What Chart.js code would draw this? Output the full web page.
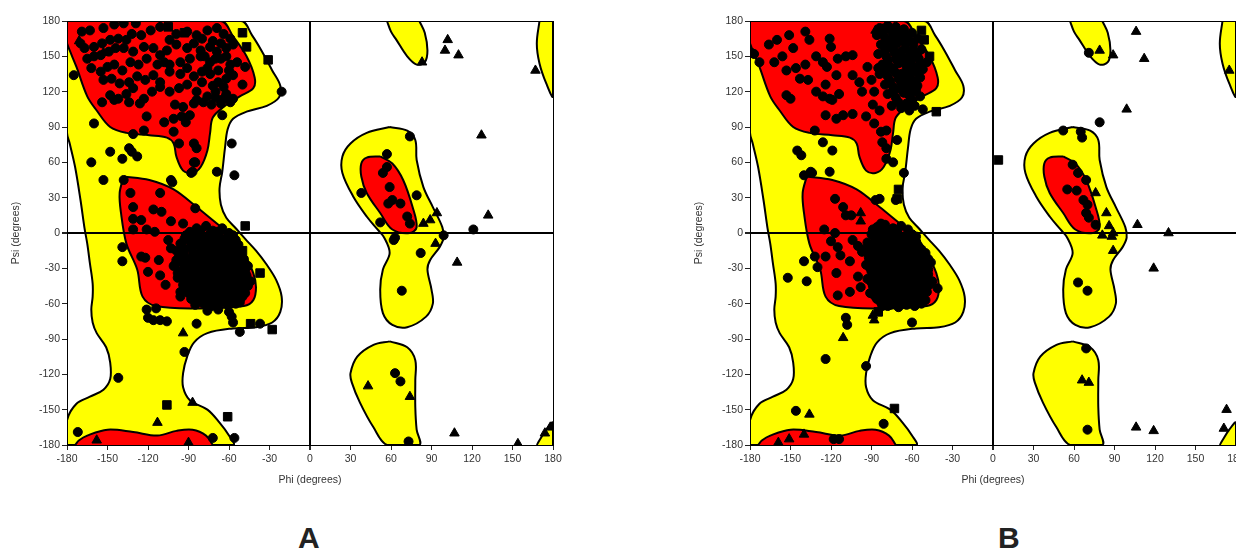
<!DOCTYPE html>
<html>
<head>
<meta charset="utf-8">
<script src="https://cdn.jsdelivr.net/npm/chart.js@4.4.1/dist/chart.umd.min.js"></script>
<style>
  html, body { margin: 0; padding: 0; background: #fff; overflow: hidden; width: 1236px; height: 548px; }
  .plot { position: absolute; top: 0; }
  .tag { position: absolute; top: 521px; line-height: 30px; font: bold 30px "Liberation Sans", Arial, sans-serif; color: #222; }
</style>
</head>
<body>
<div class="plot" style="left:0"><canvas id="plotA" width="580" height="500"></canvas></div>
<div class="plot" style="left:683px"><canvas id="plotB" width="580" height="500"></canvas></div>
<div class="tag" style="left:298px">A</div>
<div class="tag" style="left:998px">B</div>
<script>
// tick labels (degrees), same on both axes
var tickValues = [-180, -150, -120, -90, -60, -30, 0, 30, 60, 90, 120, 150, 180];

// background regions, [phi, psi]
var redBeta = [[-180,180],[-66,180],[-57,167],[-47,150],[-41,132],[-42,123],[-52,116],[-64,107],[-72,98],[-74,85],[-76,70],[-81,56],[-87,51],[-94,53],[-99,65],[-101,76],[-106,81],[-119,83],[-136,85],[-148,90],[-158,104],[-165,116],[-173,141],[-178,155],[-180,161]];
var redAlpha = [[-138,48],[-119,45],[-101,37],[-84,22],[-69,8],[-57,-3],[-49,-17],[-42,-34],[-40,-46],[-42,-57],[-49,-62],[-82,-64],[-114,-62],[-124,-54],[-128,-31],[-136,-9],[-140,17],[-141,34],[-138,48]];
var redBottom = [[-174,-180],[-171,-176],[-165,-172],[-150,-167],[-131,-169],[-113,-172],[-99,-168],[-87,-167],[-77,-172],[-72,-180]];
var redLeft = [[52,65],[61,59],[69,45],[76,22],[79,5],[74,0],[61,3],[52,17],[42,34],[38,48],[38,59],[42,64],[52,65]];

var yellowMain = [[-180,180],[-51,180],[-43,168],[-36,155],[-28,138],[-22,125],[-23,115],[-32,108],[-47,103],[-57,97],[-61,88],[-63,72],[-65,52],[-67,38],[-66,24],[-62,13],[-55,4],[-48,-5],[-40,-15],[-32,-27],[-25,-40],[-21,-54],[-22,-67],[-28,-76],[-40,-80],[-57,-81],[-76,-85],[-86,-93],[-91,-105],[-94,-119],[-94,-131],[-89,-142],[-76,-150],[-67,-161],[-60,-172],[-57,-180],[-180,-180],[-180,-159],[-173,-145],[-163,-139],[-153,-133],[-148,-124],[-148,-110],[-151,-97],[-158,-85],[-161,-76],[-162,-65],[-161,-54],[-161,-43],[-163,-26],[-165,-9],[-167,4],[-170,28],[-174,56],[-178,76],[-180,85],[-180,180]];
var yellowLeft = [[59,90],[72,87],[78,79],[79,62],[84,39],[91,22],[98,5],[99,-4],[96,-12],[89,-23],[87,-31],[90,-48],[91,-60],[86,-71],[72,-80],[61,-78],[54,-68],[52,-48],[54,-31],[59,-17],[55,-4],[50,3],[42,14],[32,31],[24,51],[24,65],[30,76],[42,85],[59,90]];
var yellowLow = [[59,-92],[72,-97],[78,-108],[78,-125],[78,-148],[79,-167],[81,-180],[57,-180],[47,-165],[37,-144],[31,-127],[30,-119],[35,-105],[47,-95],[59,-92]];
var yellowTop = [[57,180],[60,171],[64,164],[72,150],[79,143],[85,145],[87,155],[85,170],[81,180]];
var yellowTopRight = [[170,180],[168,161],[170,144],[175,127],[180,116],[180,180]];
var yellowBottomRight = [[168,-180],[170,-176],[175,-167],[180,-161],[180,-180]];

// residues, plot A
var aCircles = [
  [-169,171],[-163,172],[-153,174],[-145,177],[-138,178],[-129,178],[-170,161],[-167,157],[-160,158],[-154,161],[-148,164],[-142,165],[-136,164],[-132,169],[-125,168],[-118,172],[-111,175],[-104,164],[-99,169],[-91,171],[-84,168],[-76,172],[-69,174],[-64,169],[-59,165],[-57,160],
  [-165,148],[-160,150],[-155,151],[-149,154],[-144,157],[-138,157],[-131,154],[-123,158],[-116,157],[-111,151],[-106,155],[-99,160],[-91,157],[-86,161],[-81,155],[-74,158],[-69,154],[-62,157],
  [-162,140],[-155,137],[-150,141],[-145,143],[-139,138],[-133,145],[-127,143],[-121,148],[-113,143],[-108,145],[-104,143],[-96,145],[-89,148],[-81,150],[-74,145],[-66,148],[-59,143],[-54,145],[-48,141],
  [-153,130],[-147,131],[-141,127],[-134,128],[-128,133],[-122,130],[-116,134],[-111,128],[-104,137],[-96,135],[-91,140],[-86,133],[-80,137],[-74,135],[-68,128],[-62,131],[-57,134],[-50,126],
  [-148,117],[-142,114],[-136,118],[-131,123],[-123,114],[-117,120],[-111,124],[-104,120],[-97,123],[-91,126],[-84,120],[-76,116],[-70,120],[-64,114],[-57,114],
  [-154,111],[-145,113],[-134,111],[-126,110],[-100,109],[-94,107],[-86,110],[-79,111],[-73,109],[-66,110],[-59,111],
  [-121,99],[-108,94],[-101,97],[-95,99],[-89,100],[-92,94],[-131,84],[-123,87],[-101,86],[-97,76],[-86,76],[-84,72],[-86,60],[-87,52],
  [-80,165],[-72,163],[-66,161],[-78,150],[-70,148],[-62,150],[-76,140],[-68,138],[-60,138],[-80,128],[-72,125],[-64,124],[-70,115],[-62,118],[-84,113],
  [-65,100],[-58,76],[-69,52],[-160,93],[-175,134],[-148,69],[-139,63],[-134,72],[-132,69],[-128,65],[-162,60],[-153,45],[-102,43],[-56,49],[-85,60],[-21,120],
  [-138,45],[-103,45],[-88,51],[-133,34],[-131,22],[-111,34],[-116,20],[-110,18],[-131,12],[-125,11],[-103,10],[-94,8],[-85,21],[-131,3],[-121,3],[-115,1],
  [-139,-12],[-139,-24],[-125,-20],[-122,-21],[-112,-23],[-120,-33],[-111,-36],[-107,-44],[-96,-54],[-105,-6],[-103,-13],[-99,-23],[-101,-28],[-98,-34],[-93,-40],[-92,-46],
  [-84,4],[-77,6],[-72,2],[-65,4],
  [-92,-2],[-86,-1],[-81,-3],[-74,-1],[-68,-2],[-62,-4],[-57,-2],
  [-96,-9],[-89,-7],[-83,-10],[-77,-8],[-71,-6],[-66,-9],[-59,-8],[-53,-10],
  [-99,-15],[-93,-14],[-87,-13],[-81,-16],[-75,-14],[-69,-13],[-63,-15],[-57,-14],[-51,-15],
  [-97,-20],[-90,-22],[-84,-19],[-78,-21],[-72,-20],[-66,-19],[-61,-21],[-55,-20],[-49,-22],
  [-100,-27],[-94,-26],[-88,-25],[-82,-27],[-76,-26],[-70,-25],[-64,-28],[-58,-26],[-52,-25],[-46,-28],
  [-96,-33],[-90,-32],[-84,-31],[-78,-33],[-72,-32],[-66,-31],[-60,-34],[-54,-32],[-48,-33],
  [-98,-38],[-92,-40],[-86,-37],[-80,-39],[-74,-38],[-68,-37],[-62,-40],[-56,-38],[-50,-39],[-44,-41],
  [-94,-44],[-88,-46],[-82,-43],[-76,-45],[-70,-44],[-64,-43],[-58,-46],[-52,-44],[-46,-45],
  [-96,-50],[-90,-51],[-84,-49],[-78,-51],[-72,-50],[-66,-49],[-60,-52],[-54,-50],[-48,-51],
  [-88,-56],[-82,-55],[-76,-57],[-70,-55],[-64,-56],[-58,-55],[-52,-57],
  [-85,-61],[-79,-60],[-73,-62],[-67,-60],[-61,-61],[-55,-60],
  [-76,-66],[-68,-65],[-60,-67],
  [-89,1],[-81,2],[-69,1],[-60,0],
  [-93,-5],[-86,-5],[-78,-5],[-70,-4],[-63,-6],[-55,-6],
  [-95,-11],[-88,-11],[-80,-12],[-73,-11],[-66,-12],[-60,-11],[-54,-12],
  [-94,-18],[-87,-17],[-81,-18],[-75,-17],[-69,-17],[-63,-18],[-57,-17],[-52,-18],
  [-96,-23],[-91,-24],[-85,-23],[-79,-24],[-73,-23],[-67,-22],[-61,-24],[-55,-23],[-50,-23],
  [-93,-30],[-87,-29],[-81,-30],[-75,-30],[-69,-29],[-63,-30],[-57,-30],[-51,-30],
  [-95,-35],[-89,-36],[-83,-35],[-77,-36],[-71,-35],[-65,-34],[-59,-36],[-53,-35],[-47,-36],
  [-91,-42],[-85,-41],[-79,-42],[-73,-41],[-67,-40],[-61,-42],[-55,-41],[-49,-42],
  [-92,-47],[-86,-48],[-80,-47],[-74,-47],[-68,-47],[-62,-48],[-56,-47],[-50,-48],
  [-86,-53],[-80,-53],[-74,-53],[-68,-52],[-62,-53],[-56,-53],[-50,-54],
  [-82,-58],[-76,-59],[-70,-58],[-64,-58],[-58,-58],[-52,-59],
  [-121,-65],[-114,-64],[-120,-72],[-116,-74],[-111,-74],[-106,-75],[-84,-77],[-58,-71],[-57,-76],[-37,-77],[-52,-84],
  [-142,-123],[-93,-101],[-72,-174],[-56,-174],[-172,-169],
  [74,82],[57,67],[38,34],[52,9],[79,32],[121,3],[63,-4],[99,-2],[57,56],[54,51],[59,39],[61,28],[67,25],[58,25],[72,14],[74,8],[62,-6],[82,-17],[68,-49],[63,-119],[67,-126],[73,-177]
];
var aTriangles = [[-153,153],[-171,163],[-158,-176],[-113,-161],[-87,-144],[-90,-178],[-94,-85],[102,164],[100,155],[110,151],[167,138],[127,83],[132,15],[94,17],[89,11],[84,8],[93,-9],[109,-25],[43,-130],[74,-139],[107,-170],[154,-179],[174,-170],[178,-165],[83,145]];
var aSquares = [[-105,175],[-93,170],[-50,170],[-47,158],[-31,147],[-48,6],[-50,-15],[-37,-34],[-44,-77],[-28,-82],[-106,-146],[-61,-156]];

// residues, plot B
var bCircles = [
  [-177,152],[-173,145],[-166,160],[-160,164],[-151,168],[-139,171],[-136,164],[-121,165],[-120,158],[-162,145],[-156,150],[-148,157],[-153,138],[-146,140],[-139,143],[-131,150],[-126,145],[-123,141],[-115,148],[-109,150],[-104,151],
  [-143,131],[-137,130],[-131,120],[-124,126],[-116,134],[-121,114],[-114,118],[-104,134],[-99,128],[-97,120],[-93,141],[-85,140],[-153,117],[-150,114],[-126,116],[-119,113],
  [-124,100],[-116,97],[-111,100],[-104,101],[-94,99],[-89,109],[-84,104],[-88,93],[-83,86],[-79,87],[-82,77],[-79,72],[-79,63],[-74,60],[-71,79],[-132,87],[-126,77],[-119,70],[-145,70],[-142,66],[-135,52],[-121,52],[-140,49],[-179,153],
  [-84,174],[-78,176],[-72,175],[-66,173],[-60,170],
  [-86,168],[-80,166],[-74,169],[-68,166],[-62,163],[-56,165],
  [-83,160],[-77,158],[-71,161],[-65,157],[-59,155],[-53,156],
  [-85,152],[-79,150],[-73,153],[-67,149],[-61,147],[-55,148],[-49,145],
  [-82,143],[-76,141],[-70,144],[-64,140],[-58,138],[-52,139],
  [-84,135],[-78,133],[-72,136],[-66,131],[-60,130],[-54,132],
  [-80,126],[-74,124],[-68,127],[-62,122],[-56,125],
  [-78,118],[-72,115],[-66,119],[-60,113],[-54,116],
  [-75,108],[-68,106],[-62,104],[-52,105],[-88,120],[-90,130],
  [-81,171],[-75,172],[-69,170],[-63,167],[-77,163],[-71,165],[-65,162],[-59,160],
  [-80,155],[-74,156],[-68,154],[-62,151],[-56,152],[-78,146],[-72,148],[-66,145],[-60,143],[-54,143],
  [-80,138],[-74,139],[-68,135],[-62,135],[-56,136],[-76,129],[-70,131],[-64,127],[-58,127],
  [-74,120],[-68,122],[-62,117],[-70,111],[-64,110],[-58,108],
  [-134,51],[-117,29],[-111,22],[-109,15],[-105,15],[-89,3],[-83,8],[-87,28],[-84,29],[-66,51],[-72,28],
  [-125,3],[-117,0],[-120,-7],[-115,-12],[-104,-6],[-100,-11],[-97,-16],[-132,-20],[-124,-20],[-130,-29],[-140,-24],[-152,-38],[-138,-41],
  [-113,-19],[-106,-24],[-116,-34],[-100,-37],[-98,-46],[-115,-53],[-106,-50],[-41,-47],[-48,-31],[-109,-72],[-108,-78],[-60,-76],[-78,-62],
  [-86,5],[-80,7],[-74,4],[-68,6],
  [-90,-1],[-84,0],[-78,-2],[-72,-1],[-66,-3],[-60,-1],
  [-93,-8],[-87,-6],[-81,-9],[-75,-7],[-69,-8],[-63,-10],[-57,-7],
  [-95,-14],[-89,-15],[-83,-13],[-77,-14],[-71,-16],[-65,-13],[-59,-15],[-53,-14],
  [-92,-21],[-86,-20],[-80,-22],[-74,-20],[-68,-21],[-62,-19],[-56,-22],[-50,-20],
  [-94,-27],[-88,-26],[-82,-28],[-76,-27],[-70,-25],[-64,-28],[-58,-26],[-52,-27],[-46,-25],
  [-90,-33],[-84,-32],[-78,-34],[-72,-33],[-66,-31],[-60,-34],[-54,-32],[-48,-35],
  [-93,-39],[-87,-40],[-81,-38],[-75,-40],[-69,-39],[-63,-37],[-57,-40],[-51,-38],[-45,-41],
  [-89,-45],[-83,-46],[-77,-44],[-71,-46],[-65,-45],[-59,-43],[-53,-46],[-47,-44],
  [-91,-51],[-85,-50],[-79,-52],[-73,-50],[-67,-51],[-61,-49],[-55,-52],[-49,-50],
  [-86,-56],[-80,-57],[-74,-55],[-68,-57],[-62,-56],[-56,-55],[-50,-57],
  [-82,-62],[-76,-61],[-70,-63],[-64,-61],[-58,-62],
  [-83,3],[-77,2],[-71,2],[-63,3],
  [-87,-4],[-81,-4],[-75,-4],[-69,-4],[-63,-5],[-57,-3],
  [-92,-11],[-86,-10],[-80,-11],[-74,-11],[-68,-11],[-62,-12],[-56,-11],
  [-92,-17],[-86,-17],[-80,-17],[-74,-17],[-68,-18],[-62,-16],[-56,-17],[-50,-17],
  [-89,-23],[-83,-23],[-77,-23],[-71,-23],[-65,-23],[-59,-23],[-53,-23],[-48,-22],
  [-91,-30],[-85,-29],[-79,-30],[-73,-29],[-67,-29],[-61,-30],[-55,-29],[-49,-29],
  [-87,-36],[-81,-35],[-75,-36],[-69,-36],[-63,-34],[-57,-36],[-51,-35],
  [-90,-42],[-84,-43],[-78,-41],[-72,-42],[-66,-42],[-60,-40],[-54,-42],[-48,-41],
  [-86,-48],[-80,-48],[-74,-47],[-68,-48],[-62,-47],[-56,-48],[-50,-47],
  [-88,-53],[-82,-53],[-76,-52],[-70,-54],[-64,-53],[-58,-53],[-52,-52],
  [-83,-59],[-77,-58],[-71,-59],[-65,-58],[-59,-59],[-53,-60],
  [-124,-107],[-94,-113],[-146,-151],[-118,-175],[-114,-175],[-81,-162],
  [71,153],[79,94],[52,87],[65,86],[66,81],[59,58],[63,51],[69,45],[55,37],[62,36],[67,28],[70,24],[69,17],[71,13],[76,7],[63,-42],[70,-49],[69,-98],[70,-167]
];
var bTriangles = [[-87,172],[-82,173],[-98,17],[-98,10],[-88,-74],[-89,-70],[-111,-89],[-136,-154],[-140,-171],[-151,-175],[-159,-178],[106,171],[112,148],[99,105],[79,155],[89,151],[175,138],[107,7],[130,0],[84,17],[86,6],[89,0],[81,-2],[76,34],[88,-3],[89,-15],[119,-30],[66,-125],[71,-127],[106,-165],[119,-168],[173,-150],[171,-166]];
var bSquares = [[4,62],[-53,172],[-51,164],[-47,150],[-57,120],[-42,103],[-70,37],[-71,29],[-85,-67],[-73,-149]];

var RED = '#ff0000';
var YELLOW = '#ffff00';

function toXY(list) {
  return list.map(function (p) { return {x: p[0], y: p[1]}; });
}

function markerSet(list, style, radius) {
  return {
    data: toXY(list), pointStyle: style, pointRadius: radius, pointHoverRadius: radius,
    backgroundColor: '#000', borderColor: '#000', borderWidth: 1, showLine: false
  };
}

function regionSet(list, color) {
  return {
    data: toXY(list), showLine: true, fill: 'shape', tension: 0.35,
    backgroundColor: color, borderColor: '#000', borderWidth: 2,
    pointRadius: 0, pointHoverRadius: 0, pointHitRadius: 0, clip: 0
  };
}

function axisOptions(title, isX) {
  return {
    type: 'linear', min: -180, max: 180,
    afterBuildTicks: function (s) { s.ticks = tickValues.map(function (v) { return {value: v}; }); },
    afterFit: function (s) { if (isX) { s.height = 55; } else { s.width = 67; } },
    ticks: { color: '#333', font: {family: 'Liberation Sans', size: 10.5}, padding: isX ? 3 : 2, maxRotation: 0, autoSkip: false },
    grid: {
      z: 1,
      color: function (c) { var v = c.tick && c.tick.value; return (v === 0 || v === 180 || v === -180) ? '#000' : 'rgba(0,0,0,0)'; },
      lineWidth: function (c) { return c.tick && c.tick.value === 0 ? 2 : 1; },
      tickColor: '#222', tickLength: 5
    },
    border: { display: true, color: '#000', width: 1, z: 1 },
    title: {
      display: true, text: title, color: '#333',
      font: {family: 'Liberation Sans', size: 10.5},
      padding: isX ? {top: 0, bottom: 14} : {top: 10, bottom: 0}
    }
  };
}

function drawPlot(id, circles, triangles, squares) {
  new Chart(document.getElementById(id), {
    type: 'scatter',
    data: {
      datasets: [
        markerSet(circles, 'circle', 4.5),
        markerSet(triangles, 'triangle', 5.5),
        markerSet(squares, 'rect', 6),
        regionSet(redBeta, RED),
        regionSet(redAlpha, RED),
        regionSet(redBottom, RED),
        regionSet(redLeft, RED),
        regionSet(yellowMain, YELLOW),
        regionSet(yellowLeft, YELLOW),
        regionSet(yellowLow, YELLOW),
        regionSet(yellowTop, YELLOW),
        regionSet(yellowTopRight, YELLOW),
        regionSet(yellowBottomRight, YELLOW)
      ]
    },
    options: {
      responsive: false,
      animation: false,
      layout: { padding: {top: 21, right: 27, bottom: 0, left: 0} },
      plugins: { legend: {display: false}, tooltip: {enabled: false} },
      scales: {
        x: axisOptions('Phi (degrees)', true),
        y: axisOptions('Psi (degrees)', false)
      }
    }
  });
}

drawPlot('plotA', aCircles, aTriangles, aSquares);
drawPlot('plotB', bCircles, bTriangles, bSquares);
</script>
</body>
</html>
